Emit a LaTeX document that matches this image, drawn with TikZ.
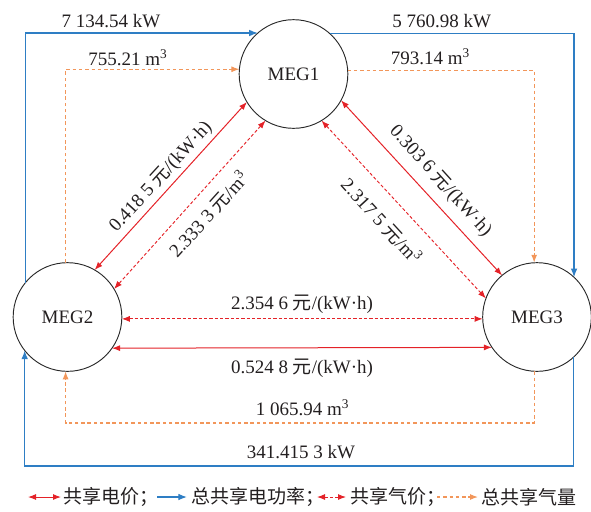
\documentclass[tikz,border=0pt]{standalone}
\usepackage{fontspec}
\setmainfont{Liberation Serif}
\newfontfamily\cjk{Noto Sans CJK SC}
\usetikzlibrary{arrows.meta,calc}
\definecolor{cred}{RGB}{228,34,40}
\definecolor{cblue}{RGB}{46,126,196}
\definecolor{corange}{RGB}{242,150,90}
\definecolor{ctext}{RGB}{35,31,32}
\definecolor{cgray}{RGB}{40,40,40}
\begin{document}
\begin{tikzpicture}[x=0.75pt,y=0.75pt,
  font=\fontsize{14.25}{17}\selectfont, text=ctext,
  meg/.style={circle, draw=cgray, line width=0.7pt, minimum size=81.5pt, inner sep=0pt, outer sep=0pt},
  elec/.style={draw=cred, line width=0.75pt, {Latex[length=6pt,width=4.5pt]}-{Latex[length=6pt,width=4.5pt]}},
  gasp/.style={draw=cred, line width=0.7pt, dash pattern=on 2.4pt off 1.6pt, {Latex[length=6pt,width=4.5pt]}-{Latex[length=6pt,width=4.5pt]}},
  pw/.style={draw=cblue, line width=0.95pt, -{Latex[length=6.5pt,width=5pt]}},
  gasq/.style={draw=corange, line width=0.85pt, dash pattern=on 2.6pt off 2.1pt, -{Latex[length=6pt,width=4.5pt]}},
  lbl/.style={anchor=base, inner sep=0pt}
]
\useasboundingbox (0,0) rectangle (591,-511);

% nodes
\node[meg] (m1) at (293.5,-74) {MEG1};
\node[meg] (m2) at (67.5,-317) {MEG2};
\node[meg] (m3) at (537,-317) {MEG3};

% helper levels
\coordinate (bb) at (0,-466);
\coordinate (ob) at (0,-423);

% total shared power (blue)
\draw[pw] (m2.141.2) |- (m1.131.2);
\draw[pw] (m1.48.8) -| (m3.47.2);
\draw[pw] (m3.312.8) -- (m3.312.8 |- bb) -- (m2.218.8 |- bb) -- (m2.218.8);

% total shared gas (orange dashed)
\draw[gasq] (m2.92) |- (m1.175.8);
\draw[gasq] (m1.4.2) -| (m3.93);
\draw[gasq] (m3.267) -- (m3.267 |- ob) -- (m2.268 |- ob) -- (m2.268);

% prices
\draw[elec] (m1.211.7) -- (m2.60.7);
\draw[gasp] (m1.239.8) -- (m2.31.2);
\draw[elec] (m1.331.5) -- (m3.130);
\draw[gasp] (m1.301.6) -- (m3.160.9);
\draw[gasp] (m2.-2) -- (m3.182);
\draw[elec] (m2.325.3) -- (m3.214.7);

% labels
\node[lbl] (l1) at (111,-27) {7 134.54 kW};
\node[lbl] (l2) at (441.7,-27) {5 760.98 kW};
\node[lbl] (l3) at (128,-65) {755.21 m\textsuperscript{3}};
\node[lbl] (l4) at (430.5,-64) {793.14 m\textsuperscript{3}};
\node[lbl] (l5) at (302,-309) {2.354 6 {\cjk 元}/(kW·h)};
\node[lbl] (l6) at (302,-373) {0.524 8 {\cjk 元}/(kW·h)};
\node[lbl] (l7) at (302.6,-415) {1 065.94 m\textsuperscript{3}};
\node[lbl] (l8) at (301,-458) {341.415 3 kW};

\node[rotate=47.5, inner sep=0pt] (d1) at (160.7,-176.7) {0.418 5 {\cjk 元}/(kW·h)};
\node[rotate=47.9, inner sep=0pt] (d2) at (208.3,-214) {2.333 3 {\cjk 元}/m\textsuperscript{3}};
\node[rotate=-47.8, inner sep=0pt] (d3) at (440.7,-180.7) {0.303 6 {\cjk 元}/(kW·h)};
\node[rotate=-47.5, inner sep=0pt] (d4) at (381.7,-220.7) {2.317 5 {\cjk 元}/m\textsuperscript{3}};

% legend
\coordinate (a1) at (28,-497); \coordinate (a2) at (61,-497);
\coordinate (b1) at (157,-497); \coordinate (b2) at (187,-497);
\coordinate (c1) at (317,-497); \coordinate (c2) at (346,-497);
\coordinate (e1) at (437,-497); \coordinate (e2) at (478,-497);
\draw[elec] (a1) -- (a2);
\draw[pw] (b1) -- (b2);
\draw[gasp] (c1) -- (c2);
\draw[gasq] (e1) -- (e2);
\node[anchor=west, inner sep=0pt, font=\fontsize{14.25}{17}\cjk] (t1) at (63,-497) {共享电价；};
\node[anchor=west, inner sep=0pt, font=\fontsize{14.25}{17}\cjk] (t2) at (191,-497) {总共享电功率；};
\node[anchor=west, inner sep=0pt, font=\fontsize{14.25}{17}\cjk] (t3) at (350,-497) {共享气价；};
\node[anchor=west, inner sep=0pt, font=\fontsize{14.25}{17}\cjk] (t4) at (481,-497) {总共享气量};
\end{tikzpicture}
\end{document}
